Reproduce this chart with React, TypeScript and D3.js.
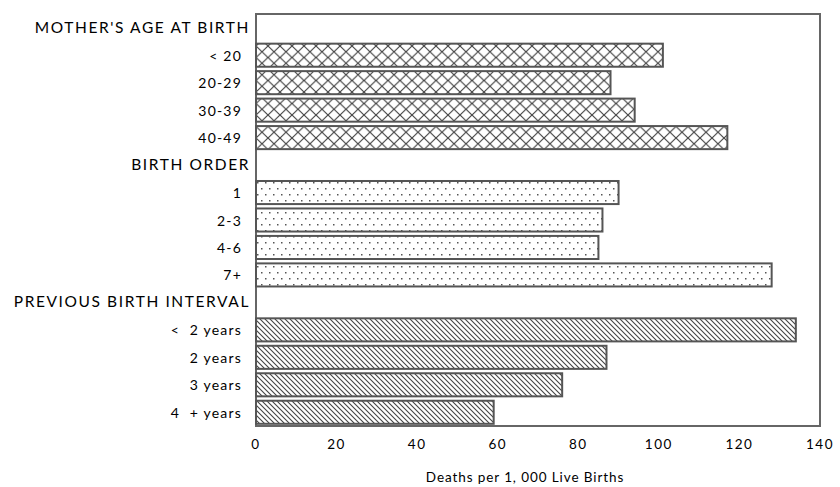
import React from "react";
import * as d3 from "d3";

const rowLabels = [
  "MOTHER'S AGE AT BIRTH", "< 20", "20-29", "30-39", "40-49",
  "BIRTH ORDER", "1", "2-3", "4-6", "7+",
  "PREVIOUS BIRTH INTERVAL", "<  2 years", "2 years", "3 years", "4  + years",
];
const isHeader = [true, false, false, false, false, true, false, false, false, false, true, false, false, false, false];
const values: (number | null)[] = [null, 101, 88, 94, 117, null, 90, 86, 85, 128, null, 134, 87, 76, 59];
const groupPattern = ["cross", "cross", "cross", "cross", "cross", "dots", "dots", "dots", "dots", "dots", "hatch", "hatch", "hatch", "hatch", "hatch"];
const xTicks = [0, 20, 40, 60, 80, 100, 120, 140];
const xTitle = "Deaths per 1, 000 Live Births";

const W = 840, H = 487;
const M = { left: 256, right: 20, top: 14, bottom: 61 };

export default function App() {
  const x = d3.scaleLinear().domain([0, 140]).range([M.left, W - M.right]);
  const y = d3.scaleBand<number>().domain(d3.range(rowLabels.length)).range([M.top, H - M.bottom]).paddingInner(0.16).paddingOuter(0.08);
  const font = "Lato, 'DejaVu Sans', sans-serif";
  return (
    <svg width={W} height={H} style={{ position: "absolute", left: 0, top: 0, background: "#fff" }}>
      <defs>
        <pattern id="cross" patternUnits="userSpaceOnUse" width={12} height={11.5} x={M.left} y={0}>
          <rect width={12} height={11.5} fill="#fff" />
          <path d="M0,0 L12,11.5 M12,0 L0,11.5" stroke="#444" strokeWidth={1.2} />
        </pattern>
        <pattern id="dots" patternUnits="userSpaceOnUse" width={8} height={12} x={M.left} y={0}>
          <rect width={8} height={12} fill="#fff" />
          <rect x={1} y={2} width={1.5} height={1.5} fill="#555" />
          <rect x={5} y={8} width={1.5} height={1.5} fill="#555" />
        </pattern>
        <pattern id="hatch" patternUnits="userSpaceOnUse" width={5} height={5} x={M.left} y={0}>
          <rect width={5} height={5} fill="#fff" />
          <path d="M-1,-1 L6,6 M-1,4 L1,6 M4,-1 L6,1" stroke="#444" strokeWidth={1.1} />
        </pattern>
      </defs>
      <rect x={M.left} y={M.top} width={W - M.right - M.left} height={H - M.bottom - M.top} fill="none" stroke="#666" strokeWidth={2} />
      {values.map((v, i) =>
        v == null ? null : (
          <rect key={i} x={x(0)} y={y(i)!} width={x(v) - x(0)} height={y.bandwidth()}
            fill={`url(#${groupPattern[i]})`} stroke="#555" strokeWidth={2} />
        )
      )}
      {rowLabels.map((lab, i) => (
        <text key={i} x={isHeader[i] ? M.left - 6 : M.left - 14} y={y(i)! + y.bandwidth() / 2 + (isHeader[i] ? -1 : 0)}
          textAnchor="end" dominantBaseline="central" fontFamily={font} style={{ whiteSpace: "pre" }}
          fontSize={isHeader[i] ? 15.5 : 14} letterSpacing={isHeader[i] ? 1.6 : 1.2} fill="#000">{lab}</text>
      ))}
      {xTicks.map((t) => (
        <text key={t} x={x(t)} y={449} textAnchor="middle" fontFamily={font} fontSize={13.5} fill="#000" letterSpacing={1.5}>{t}</text>
      ))}
      <text x={525} y={482} textAnchor="middle" fontFamily={font} fontSize={13.5} fill="#000" letterSpacing={0.9} style={{ whiteSpace: "pre" }}>{xTitle}</text>
    </svg>
  );
}
